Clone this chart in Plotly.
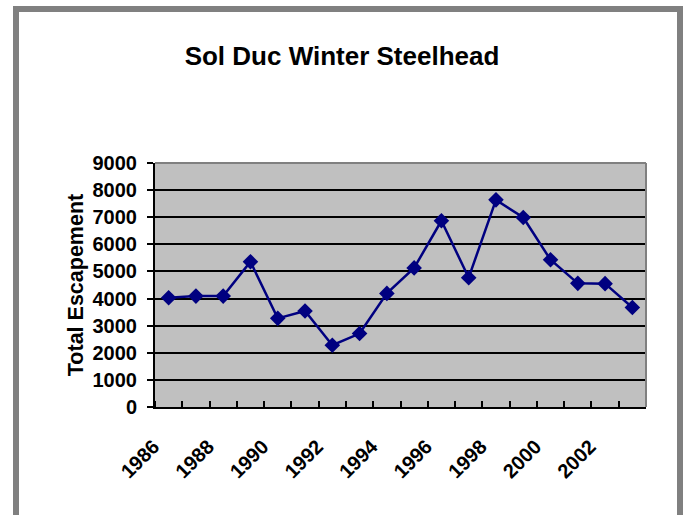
import plotly.graph_objects as go

years = list(range(1986, 2004))
escapement = [4030, 4090, 4090, 5360, 3270, 3540, 2280, 2710, 4190, 5130,
              6870, 4770, 7640, 6990, 5430, 4560, 4550, 3670]
label_years = years[::2]
y_ticks = list(range(0, 10000, 1000))

W, H = 685, 515
L, R, T, B = 155, 39, 163, 108
pw, ph = W - L - R, H - T - B


def px(x):
    return (x - L) / pw


def py(y):
    return (H - B - y) / ph


fig = go.Figure()
fig.add_trace(go.Scatter(
    x=years, y=escapement, mode="lines+markers",
    line=dict(color="#000080", width=2.5),
    marker=dict(symbol="diamond", size=12, color="#000080"),
    showlegend=False, cliponaxis=False,
))

font = "Liberation Sans, Arial, sans-serif"
fig.update_layout(
    width=W, height=H,
    margin=dict(l=L, r=R, t=T, b=B, autoexpand=False),
    paper_bgcolor="white", plot_bgcolor="#C0C0C0",
    title=dict(text="<b>Sol Duc Winter Steelhead</b>",
               font=dict(family=font, size=26, color="black"),
               x=px(342), xref="paper", xanchor="center",
               y=1 - 56 / H, yref="container", yanchor="middle"),
    xaxis=dict(range=[1985.5, 2003.5], tickmode="array",
               tickvals=label_years, ticktext=[str(v) for v in label_years],
               tickangle=-45, ticks="", showgrid=False, zeroline=False,
               showline=True, linecolor="black", linewidth=2,
               tickfont=dict(family=font, size=20, color="black", weight="bold"),
               ticklabelstandoff=18, ticklabelshift=-15,
               minor=dict(tick0=1985.5, dtick=1, ticks="inside", ticklen=6,
                          tickwidth=2, tickcolor="black", showgrid=False)),
    yaxis=dict(range=[0, 9000], tickmode="array", tickvals=y_ticks,
               ticks="outside", ticklen=6, tickwidth=2, tickcolor="black",
               showgrid=True, gridcolor="black", gridwidth=2, zeroline=False,
               showline=True, linecolor="black", linewidth=2,
               tickfont=dict(family=font, size=20, color="black", weight="bold"),
               ticklabelstandoff=6,
               title=dict(text="<b>Total Escapement</b>", standoff=3,
                          font=dict(family=font, size=21.5, color="black"))),
    shapes=[
        dict(type="line", xref="paper", yref="paper", x0=0, x1=1, y0=1, y1=1,
             line=dict(color="#808080", width=2), layer="above"),
        dict(type="line", xref="paper", yref="paper", x0=1, x1=1, y0=0, y1=1,
             line=dict(color="#808080", width=2), layer="above"),
        dict(type="rect", xref="paper", yref="paper",
             x0=px(16), x1=px(680), y0=py(9), y1=py(530),
             line=dict(color="#808080", width=6), layer="above"),
    ],
)

fig.write_html("out.html", config={"displayModeBar": False},
               post_script="document.body.style.margin='0';"
                           "document.body.style.overflow='hidden';")
